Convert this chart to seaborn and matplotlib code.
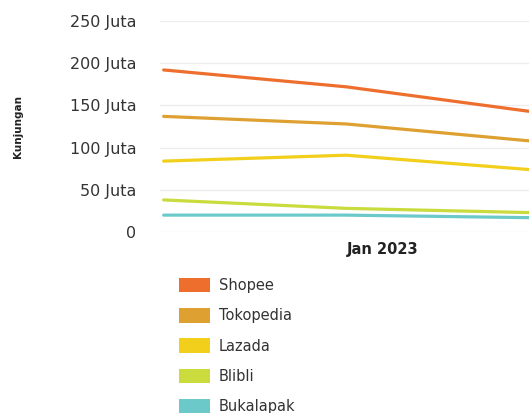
import matplotlib
matplotlib.use("Agg")
import matplotlib.pyplot as plt
from matplotlib.patches import Patch
import seaborn as sns
import pandas as pd

periods = [0, 1, 2]
tick_positions = [1]
tick_labels = ["Jan 2023"]
platforms = ["Shopee", "Tokopedia", "Lazada", "Blibli", "Bukalapak"]
shopee = [192, 172, 143]
tokopedia = [137, 128, 108]
lazada = [84, 91, 74]
blibli = [38, 28, 23]
bukalapak = [20, 20, 17]
colors = ["#EE6F2D", "#DFA032", "#F2CF1B", "#C9DB3D", "#6CC9C9"]
y_ticks = [0, 50, 100, 150, 200, 250]
y_labels = ["0", "50 Juta", "100 Juta", "150 Juta", "200 Juta", "250 Juta"]

series = [shopee, tokopedia, lazada, blibli, bukalapak]
df = pd.DataFrame({
    "period": [p for s in series for p in periods],
    "value": [v for s in series for v in s],
    "platform": [name for name, s in zip(platforms, series) for _ in s],
})

sns.set_theme(style="white")
plt.rcParams["font.family"] = ["DejaVu Sans"]

fig = plt.figure(figsize=(5.29, 4.13), dpi=100)
ax = fig.add_axes([160 / 529, 181 / 413, 369 / 529, 211 / 413])
sns.lineplot(data=df, x="period", y="value", hue="platform", hue_order=platforms,
             palette=colors, linewidth=2.3, legend=False, ax=ax)

ax.set_xlim(-0.02, 2.0)
ax.set_ylim(0, 250)
ax.set_yticks(y_ticks)
ax.set_yticklabels(y_labels, fontsize=11.5, color="#333333")
ax.set_xticks(tick_positions)
ax.set_xticklabels(tick_labels, fontsize=10.5, fontweight="bold", color="#222222", ha="left")
ax.tick_params(axis="y", length=0, pad=17)
ax.tick_params(axis="x", length=5, width=0.8, color="#cccccc", pad=2)
ax.yaxis.grid(True, color="#ececec", linewidth=0.9)
for s in ax.spines.values():
    s.set_visible(False)
ax.set_xlabel("")
ax.set_ylabel("")
fig.text(18 / 529, 1 - 126 / 413, "Kunjungan", rotation=90, ha="center", va="center",
         fontsize=7.5, fontweight="bold", color="#222222",
         family=["Liberation Sans Narrow", "DejaVu Sans"])

handles = [Patch(facecolor=c, edgecolor="none", label=n) for c, n in zip(colors, platforms)]
fig.legend(handles=handles, loc="upper left", bbox_to_anchor=(173 / 529, 1 - 272 / 413),
           frameon=False, fontsize=10.5, handlelength=2.12, handleheight=1.16,
           labelspacing=1.03, handletextpad=0.62, borderaxespad=0,
           labelcolor="#333333")

fig.savefig("out.png", dpi=100)
